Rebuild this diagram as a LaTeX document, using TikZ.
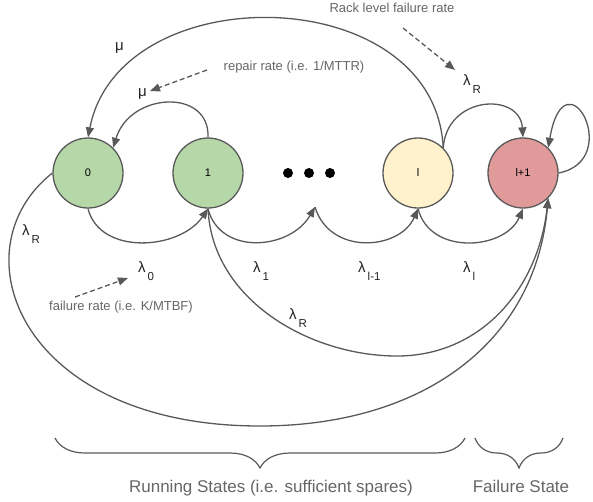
\documentclass[tikz,border=0pt]{standalone}
\usepackage{fontspec}
\setmainfont{Liberation Sans}
\usetikzlibrary{arrows.meta,decorations.pathreplacing}

\definecolor{edgec}{HTML}{595959}
\definecolor{notec}{HTML}{666666}
\definecolor{gfill}{HTML}{B6D7A8}
\definecolor{yfill}{HTML}{FFF2CC}
\definecolor{rfill}{HTML}{E09A9A}
\definecolor{labc}{HTML}{222222}

\newcommand\lamsub[1]{λ\kern2pt\raisebox{-8pt}{\fontsize{11.5}{11.5}\selectfont #1}}

\begin{document}
\begin{tikzpicture}[x=1pt,y=-1pt,
  state/.style={circle,draw=edgec,line width=1.3pt,minimum size=70pt,inner sep=0pt,font=\fontsize{11}{11}\selectfont},
  dotnode/.style={circle,fill=black,minimum size=10pt,inner sep=0pt},
  conn/.style={draw=edgec,line width=1.3pt,-{Triangle[length=10pt,width=8pt]}},
  notetext/.style={text=notec,font=\fontsize{13}{13}\selectfont,inner sep=0pt,anchor=base},
  bigtext/.style={text=notec,font=\fontsize{17}{17}\selectfont,inner sep=0pt,anchor=base},
  lbl/.style={text=labc,font=\fontsize{15}{15}\selectfont,inner sep=0pt,anchor=base west},
  dasharrow/.style={draw=edgec,line width=1.3pt,dash pattern=on 5pt off 3pt,-{Triangle[length=10pt,width=8pt]}},
  bracedec/.style={draw=edgec,line width=1.2pt,decorate,decoration={brace,amplitude=30pt}},
  ]
\useasboundingbox (0,0) rectangle (593,501);

% states
\node[state,fill=gfill] (n0) at (88,173) {0};
\node[state,fill=gfill] (n1) at (208,173) {1};
\node[state,fill=yfill] (nl) at (418,173) {l};
\node[state,fill=rfill] (nl1) at (523,173) {l+1};

% dots
\node[dotnode] (d1) at (288,173) {};
\node[dotnode] (d2) at (309,173) {};
\node[dotnode] (d3) at (330,173) {};
\coordinate (dmid) at (315,207);
\coordinate (b1) at (260,426);
\coordinate (b2) at (397,356);

% lower transitions
\draw[conn] (n0.south) .. controls (100,256) and (180,250) .. (n1.south);
\draw[conn] (n1.south) .. controls (220,256) and (290,250) .. (dmid);
\draw[conn] (dmid) .. controls (330,256) and (400,250) .. (nl.south);
\draw[conn] (nl.south) .. controls (430,256) and (505,250) .. (nl1.south);

% repair transitions
\draw[conn] (n1.north) .. controls (210,88) and (130,92) .. (n0.45);
\draw[conn] (nl.45) .. controls (435,-20) and (120,-25) .. (n0.north);

% rack failures
\draw[conn] (nl.45) .. controls (447,95) and (520,92) .. (nl1.north);
\draw[conn] (nl1.east) .. controls (625,160) and (565,50) .. (nl1.45);
\draw[conn] (n0.west) .. controls (-45,250) and (20,426) .. (b1) .. controls (420,426) and (535,345) .. (nl1.-45);
\draw[conn] (n1.south) .. controls (212,300) and (310,356) .. (b2) .. controls (480,356) and (538,290) .. (nl1.-45);

% labels
\node[lbl] (mu1) at (115,50) {μ};
\node[lbl] (mu2) at (138,96) {μ};
\node[lbl] (lrt) at (463,85) {\lamsub{R}};
\node[lbl] (lrl) at (22,235) {\lamsub{R}};
\node[lbl] (l0) at (138,272) {\lamsub{0}};
\node[lbl] (l1) at (253,272) {\lamsub{1}};
\node[lbl] (lrm) at (289,319) {\lamsub{R}};
\node[lbl] (llm) at (358,272) {\lamsub{l-1}};
\node[lbl] (ll) at (463,272) {\lamsub{l}};

% annotations
\node[notetext] (rack) at (392,12) {Rack level failure rate};
\node[notetext] (rep) at (294,70) {repair rate (i.e. 1/MTTR)};
\node[notetext] (fail) at (121,310) {failure rate (i.e. K/MTBF)};
\coordinate (a1s) at (403,28);
\coordinate (a1e) at (455,70);
\coordinate (a2s) at (207,70);
\coordinate (a2e) at (150,91);
\coordinate (a3s) at (75,297);
\coordinate (a3e) at (128,278);
\draw[dasharrow] (a1s) -- (a1e);
\draw[dasharrow] (a2s) -- (a2e);
\draw[dasharrow] (a3s) -- (a3e);

% braces
\coordinate (br1a) at (465,438);
\coordinate (br1b) at (55,438);
\coordinate (br2a) at (563,438);
\coordinate (br2b) at (475,438);
\draw[bracedec] (br1a) -- (br1b);
\draw[bracedec] (br2a) -- (br2b);
\node[bigtext] (run) at (271,492) {Running States (i.e. sufficient spares)};
\node[bigtext] (fst) at (521,492) {Failure State};
\end{tikzpicture}
\end{document}
